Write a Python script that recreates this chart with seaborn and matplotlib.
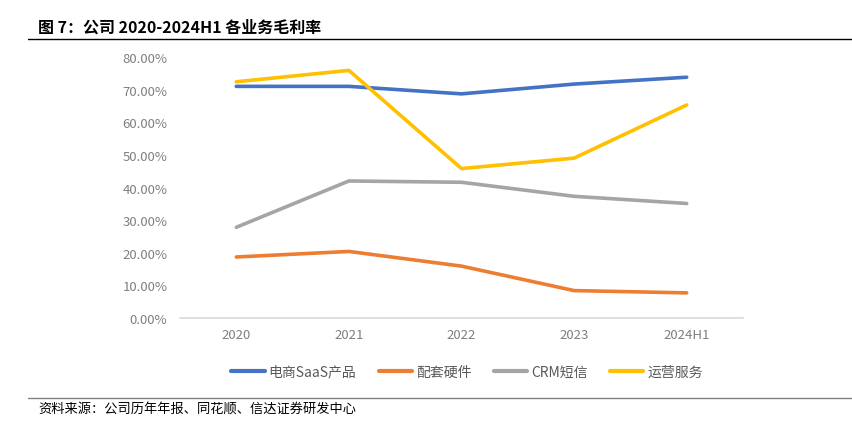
import matplotlib
matplotlib.use("Agg")
import matplotlib.pyplot as plt
from matplotlib.ticker import FuncFormatter
import seaborn as sns
import pandas as pd

categories = ["2020", "2021", "2022", "2023", "2024H1"]
series_names = ["电商SaaS产品", "配套硬件", "CRM短信", "运营服务"]
saas = [71.0, 71.0, 68.7, 71.7, 73.8]
hardware = [18.7, 20.4, 15.9, 8.4, 7.7]
crm = [27.8, 42.0, 41.6, 37.3, 35.1]
ops = [72.4, 75.9, 45.8, 49.0, 65.3]
colors = ["#4472C4", "#ED7D31", "#A5A5A5", "#FFC000"]
title = "图 7：公司 2020-2024H1 各业务毛利率"
source = "资料来源：公司历年年报、同花顺、信达证券研发中心"

sns.set_theme(style="white")
plt.rcParams["font.family"] = ["Noto Sans CJK SC", "DejaVu Sans"]

rows = []
for name, vals in zip(series_names, [saas, hardware, crm, ops]):
    for c, v in zip(categories, vals):
        rows.append({"year": c, "value": v / 100.0, "series": name})
df = pd.DataFrame(rows)

fig = plt.figure(figsize=(8.52, 4.27), dpi=100)
ax = fig.add_axes([180 / 852, 1 - 319 / 427, 563 / 852, 261 / 427])

sns.lineplot(data=df, x="year", y="value", hue="series", hue_order=series_names,
             palette=colors, linewidth=2.6, ax=ax, sort=False)

ax.set_xlim(-0.5, 4.5)
ax.set_ylim(0, 0.8)
ax.set_yticks([i / 10 for i in range(9)])
ax.yaxis.set_major_formatter(FuncFormatter(lambda v, p: f"{v*100:.2f}%"))
ax.set_xlabel("")
ax.set_ylabel("")
for s in ["top", "right", "left"]:
    ax.spines[s].set_visible(False)
ax.spines["bottom"].set_color("#D9D9D9")
ax.spines["bottom"].set_linewidth(1.2)
ax.tick_params(axis="both", length=0, labelsize=9.5, colors="#7F7F7F")
ax.tick_params(axis="y", pad=9)
ax.tick_params(axis="x", pad=7)
ax.grid(False)

leg = ax.legend(loc="upper center", bbox_to_anchor=(0.51, -0.13), ncol=4, frameon=False,
                fontsize=10, handlelength=2.4, columnspacing=1.6, handletextpad=0.3)
for t in leg.get_texts():
    t.set_color("#595959")
for h in leg.get_lines():
    h.set_linewidth(3)

fig.text(38 / 852, 1 - 28 / 427, title, fontsize=11.5, fontweight="bold", color="black",
         va="center", ha="left")
fig.add_artist(plt.Line2D([28 / 852, 1.0], [1 - 40 / 427, 1 - 40 / 427], color="black", linewidth=1.0))
fig.add_artist(plt.Line2D([28 / 852, 1.0], [1 - 399 / 427, 1 - 399 / 427], color="#808080", linewidth=1.0))
fig.text(38 / 852, 1 - 410 / 427, source, fontsize=9.5, style="italic", color="black",
         va="center", ha="left")

fig.savefig("out.png", dpi=100)
